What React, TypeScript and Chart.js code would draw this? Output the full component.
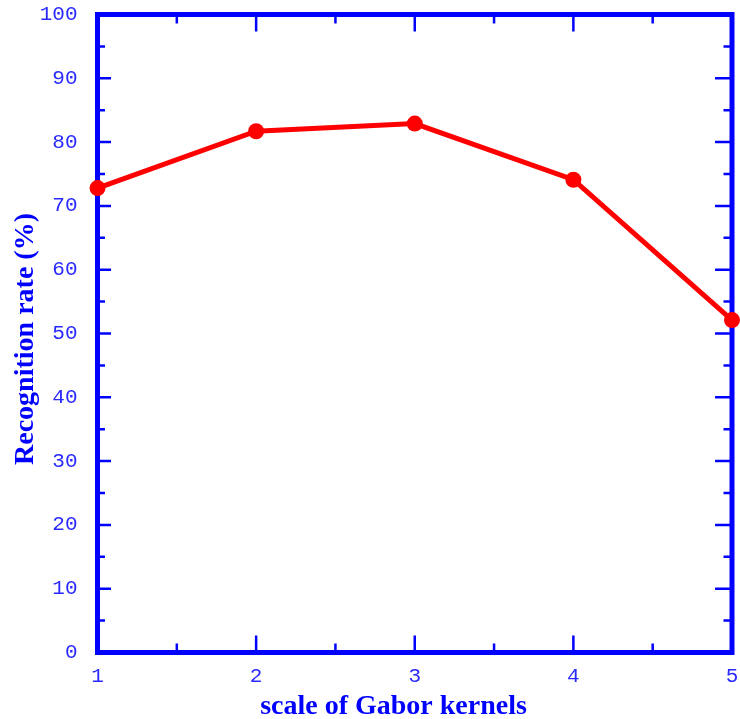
import React, { useEffect, useRef } from "react";
import { Chart, registerables } from "chart.js";

Chart.register(...registerables);

const scales = [1, 2, 3, 4, 5];
const recognitionRate = [72.8, 81.7, 82.9, 74.1, 52.1];
const xTitle = "scale of Gabor kernels";
const yTitle = "Recognition rate (%)";

const BLUE = "#0000ff";

const framePlugin = {
  id: "frame",
  beforeDatasetsDraw(chart: any) {
    const { ctx, chartArea: a, scales: s } = chart;
    const x = s.x, y = s.y;
    ctx.save();
    ctx.strokeStyle = BLUE;
    ctx.lineWidth = 2.5;
    ctx.beginPath();
    for (let v = 1; v <= 5.0001; v += 0.5) {
      const px = x.getPixelForValue(v);
      const major = Math.abs(v - Math.round(v)) < 1e-6;
      const len = major ? 17 : 9;
      ctx.moveTo(px, a.bottom);
      ctx.lineTo(px, a.bottom - len);
      ctx.moveTo(px, a.top);
      ctx.lineTo(px, a.top + len);
    }
    for (let v = 0; v <= 100.0001; v += 5) {
      const py = y.getPixelForValue(v);
      const major = v % 10 === 0;
      ctx.moveTo(a.left, py);
      ctx.lineTo(a.left + (major ? 13.5 : 7.5), py);
      ctx.moveTo(a.right, py);
      ctx.lineTo(a.right - (major ? 17 : 8.5), py);
    }
    ctx.stroke();
    ctx.lineWidth = 5;
    ctx.strokeRect(a.left, a.top, a.right - a.left, a.bottom - a.top);
    ctx.restore();
  },
  afterDraw(chart: any) {
    const { ctx } = chart;
    ctx.save();
    ctx.fillStyle = BLUE;
    ctx.font = "bold 28px 'Liberation Serif'";
    ctx.textAlign = "center";
    ctx.textBaseline = "alphabetic";
    ctx.fillText(xTitle, 393.5, 714);
    ctx.translate(33, 339);
    ctx.rotate(-Math.PI / 2);
    ctx.fillText(yTitle, 0, 0);
    ctx.restore();
  },
};

export default function App() {
  const ref = useRef<HTMLCanvasElement>(null);
  useEffect(() => {
    const tickFont = { family: "'Liberation Mono'", size: 21 };
    const chart = new Chart(ref.current as HTMLCanvasElement, {
      type: "line",
      data: {
        datasets: [
          {
            data: scales.map((s, i) => ({ x: s, y: recognitionRate[i] })),
            borderColor: "#ff0000",
            backgroundColor: "#ff0000",
            borderWidth: 5,
            pointRadius: 8,
            pointHoverRadius: 8,
            pointBorderWidth: 0,
            tension: 0,
            clip: false as any,
          },
        ],
      },
      options: {
        animation: false,
        responsive: false,
        maintainAspectRatio: false,
        layout: { padding: { top: 14.5, right: 5.5, left: 0, bottom: 0 } },
        plugins: { legend: { display: false }, tooltip: { enabled: false } },
        scales: {
          x: {
            type: "linear",
            min: 1,
            max: 5,
            grid: { display: false, drawTicks: false },
            border: { display: false },
            ticks: { stepSize: 1, font: tickFont, color: "#2a2aff", padding: 11 },
            afterFit: (sc: any) => {
              sc.height = 66.5;
              sc.paddingLeft = 0;
              sc.paddingRight = 0;
            },
          },
          y: {
            min: 0,
            max: 100,
            grid: { display: false, drawTicks: false },
            border: { display: false },
            ticks: { stepSize: 10, font: tickFont, color: "#2a2aff", padding: 20 },
            afterFit: (sc: any) => {
              sc.width = 97.5;
              sc.paddingTop = 0;
              sc.paddingBottom = 0;
            },
          },
        },
      },
      plugins: [framePlugin],
    });
    return () => chart.destroy();
  }, []);
  return (
    <div style={{ position: "fixed", left: 0, top: 0, width: 740, height: 719, background: "#fff" }}>
      <canvas ref={ref} width={740} height={719} />
    </div>
  );
}
